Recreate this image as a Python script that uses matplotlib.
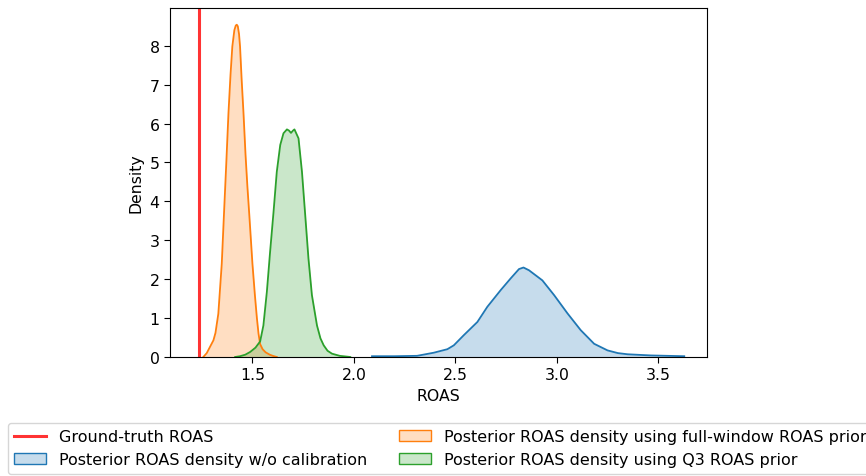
import matplotlib
matplotlib.use("Agg")
import matplotlib.pyplot as plt
from matplotlib.colors import to_rgba
from matplotlib.lines import Line2D
from matplotlib.patches import Patch

plt.rcParams["font.size"] = 11.3
plt.rcParams["xtick.major.size"] = 4
plt.rcParams["ytick.major.size"] = 4

# ground truth ROAS
truth_roas = 1.238

# density curves (x = ROAS, y = density)
orange_x = [1.258, 1.275, 1.291, 1.308, 1.318, 1.332, 1.349, 1.360, 1.371, 1.382,
            1.392, 1.401, 1.411, 1.418, 1.423, 1.428, 1.434, 1.439, 1.447, 1.456,
            1.466, 1.475, 1.485, 1.500, 1.512, 1.522, 1.530, 1.538, 1.550, 1.565,
            1.585, 1.600, 1.620]
orange_y = [0.0, 0.10, 0.26, 0.43, 0.62, 1.11, 2.40, 3.69, 4.95, 6.27,
            7.25, 7.98, 8.40, 8.52, 8.54, 8.50, 8.30, 7.98, 7.12, 6.27,
            5.20, 4.40, 3.62, 2.40, 1.60, 1.00, 0.60, 0.33, 0.20, 0.12,
            0.06, 0.03, 0.0]

green_x = [1.415, 1.439, 1.465, 1.489, 1.515, 1.538, 1.554, 1.571, 1.587, 1.604,
           1.620, 1.637, 1.653, 1.670, 1.680, 1.690, 1.700, 1.707, 1.727, 1.744,
           1.760, 1.776, 1.793, 1.818, 1.835, 1.851, 1.870, 1.892, 1.930, 1.982]
green_y = [0.0, 0.02, 0.06, 0.13, 0.24, 0.40, 0.81, 1.67, 2.70, 3.73,
           4.76, 5.45, 5.75, 5.85, 5.82, 5.76, 5.82, 5.85, 5.62, 4.76,
           3.65, 2.53, 1.59, 0.81, 0.48, 0.30, 0.16, 0.085, 0.03, 0.0]

blue_x = [2.089, 2.20, 2.311, 2.393, 2.460, 2.492, 2.541, 2.608, 2.657, 2.723,
          2.772, 2.813, 2.835, 2.862, 2.928, 2.986, 3.052, 3.117, 3.183, 3.249,
          3.300, 3.348, 3.463, 3.627]
blue_y = [0.02, 0.02, 0.03, 0.11, 0.20, 0.30, 0.56, 0.90, 1.29, 1.72,
          2.02, 2.26, 2.30, 2.23, 1.97, 1.59, 1.12, 0.69, 0.34, 0.17,
          0.10, 0.07, 0.04, 0.02]

labels = ["Ground-truth ROAS",
          "Posterior ROAS density w/o calibration",
          "Posterior ROAS density using full-window ROAS prior",
          "Posterior ROAS density using Q3 ROAS prior"]

blue = "#1f77b4"
orange = "#ff7f0e"
green = "#2ca02c"
red = "#ff3333"

fig = plt.figure(figsize=(8.66, 4.77), dpi=100)
ax = fig.add_axes([170 / 866, 119 / 477, 537 / 866, 349 / 477])

for xs, ys, c in [(blue_x, blue_y, blue), (orange_x, orange_y, orange), (green_x, green_y, green)]:
    ax.fill_between(xs, 0, ys, color=c, alpha=0.25, linewidth=0)
    ax.plot(xs, ys, color=c, lw=1.3)

ax.axvline(truth_roas, color=red, lw=2.2)

ax.set_xlim(1.094, 3.739)
ax.set_ylim(0, 8.97)
ax.set_xticks([1.5, 2.0, 2.5, 3.0, 3.5])
ax.set_xlabel("ROAS")
ax.set_ylabel("Density")

handles = [Line2D([], [], color=red, lw=2.2)]
for c in [blue, orange, green]:
    handles.append(Patch(facecolor=to_rgba(c, 0.25), edgecolor=c))

fig.legend(handles, labels, ncol=2, loc="upper left",
           bbox_to_anchor=(8 / 866, 1 - 424 / 477), bbox_transform=fig.transFigure,
           borderaxespad=0, fontsize=11.5)

fig.savefig("out.png", dpi=100)
